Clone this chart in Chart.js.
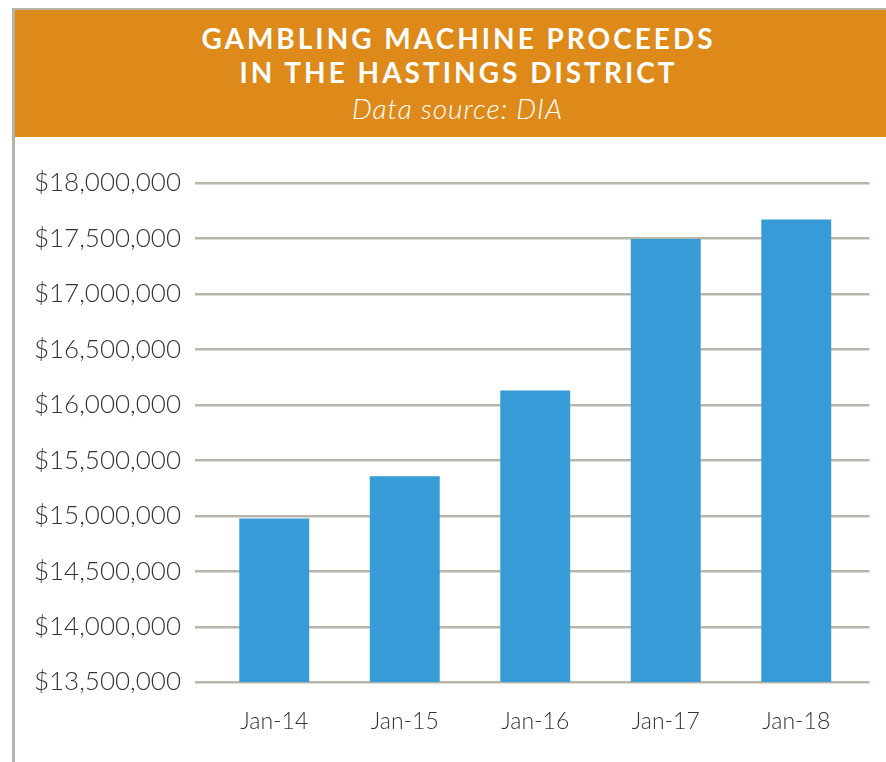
<!DOCTYPE html>
<html>
<head>
<meta charset="utf-8">
<script src="https://cdn.jsdelivr.net/npm/chart.js@4"></script>
<style>
  html, body { margin: 0; padding: 0; background: #fff; }
  body { width: 886px; height: 762px; position: relative; overflow: hidden; }
  #leftline { position: absolute; left: 12px; top: 8px; width: 3px; height: 754px; background: #b5b2a7; }
  #topline { position: absolute; left: 12px; top: 8px; width: 874px; height: 2px; background: #b5b2a7; }
  #header { position: absolute; left: 15px; top: 10px; width: 871px; height: 127px; background: #DD8A1A;
            color: #fff; text-align: center; font-family: Lato, "Open Sans", sans-serif; }
  #t1 { position: absolute; left: 0; width: 100%; top: 11px; font-weight: 700; font-size: 28px; line-height: 34px; letter-spacing: 3px; padding-left: 16px; box-sizing: border-box; }
  #t2 { position: absolute; left: 0; width: 100%; top: 82px; font-style: italic; font-weight: 300; font-size: 28px; line-height: 32px; padding-left: 14px; box-sizing: border-box; letter-spacing: 1px; }
  #wrap { position: absolute; left: 14px; top: 137px; width: 872px; height: 625px; }
</style>
</head>
<body>
<div id="leftline"></div>
<div id="topline"></div>
<div id="header">
  <div id="t1">GAMBLING MACHINE PROCEEDS<br>IN THE HASTINGS DISTRICT</div>
  <div id="t2">Data source: DIA</div>
</div>
<div id="wrap"><canvas id="c"></canvas></div>
<script>
const categories = ["Jan-14", "Jan-15", "Jan-16", "Jan-17", "Jan-18"];
const proceeds = [14975000, 15356000, 16128000, 17495000, 17670000];
const yMin = 13500000;
const yMax = 18000000;
const yStep = 500000;

const gridPlugin = {
  id: 'extGrid',
  beforeDatasetsDraw(chart) {
    const ctx = chart.ctx, ys = chart.scales.y, a = chart.chartArea;
    ctx.save();
    ctx.strokeStyle = '#b8b6ab';
    ctx.lineWidth = 2.5;
    ys.ticks.forEach(t => {
      const y = Math.round(ys.getPixelForValue(t.value)) + 0.25;
      ctx.beginPath();
      ctx.moveTo(a.left - 14, y);
      ctx.lineTo(a.right + 8, y);
      ctx.stroke();
    });
    ctx.restore();
  }
};

new Chart(document.getElementById('c'), {
  type: 'bar',
  data: {
    labels: categories,
    datasets: [{ data: proceeds, backgroundColor: '#369BD6', borderWidth: 0,
                 barPercentage: 0.536, categoryPercentage: 1.0 }]
  },
  options: {
    responsive: true,
    maintainAspectRatio: false,
    animation: false,
    layout: { padding: { left: 0, right: 24.5, top: 46, bottom: 0 } },
    plugins: { legend: { display: false }, tooltip: { enabled: false }, title: { display: false } },
    scales: {
      x: {
        grid: { display: false, drawTicks: false },
        border: { display: false },
        afterFit(axis) { axis.height = 80; },
        ticks: { color: '#333', padding: 26, font: { family: 'Lato', size: 23, weight: '300' } }
      },
      y: {
        min: yMin, max: yMax,
        afterFit(axis) { axis.width = 195; },
        grid: { display: false, drawTicks: false },
        border: { display: false },
        ticks: {
          stepSize: yStep,
          color: '#333',
          padding: 28,
          font: { family: 'Lato', size: 26, weight: '300' },
          callback: v => '$' + Number(v).toLocaleString('en-US')
        }
      }
    }
  },
  plugins: [gridPlugin]
});
</script>
</body>
</html>
